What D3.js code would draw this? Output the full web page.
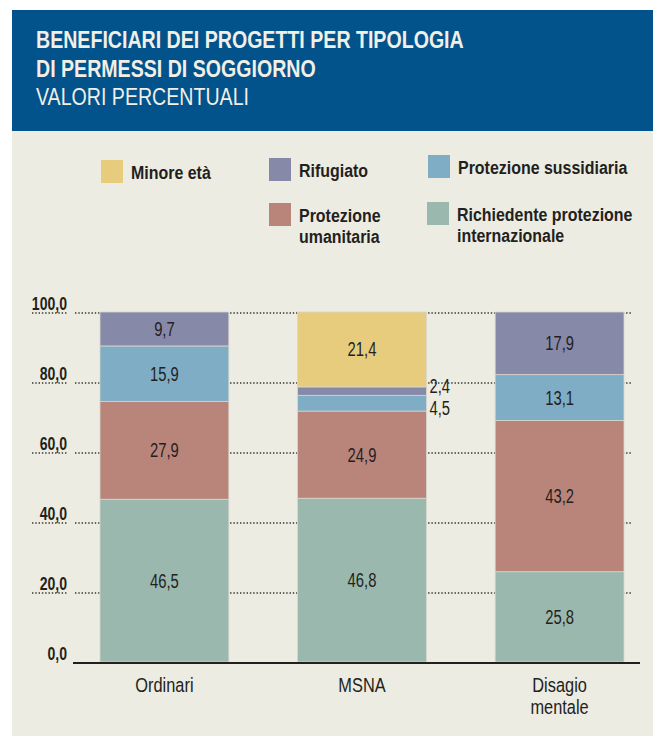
<!DOCTYPE html>
<html lang="it">
<head>
<meta charset="utf-8">
<title>Beneficiari dei progetti per tipologia di permessi di soggiorno</title>
<script src="https://d3js.org/d3.v7.min.js"></script>
<style>
  body { margin: 0; background: #fff; }
  text { font-family: "Liberation Sans", Arial, sans-serif; }
</style>
</head>
<body>
<div id="main"></div>
<script>
// ---- data ----
var categories = ["Ordinari", "MSNA", "Disagio mentale"];
var categoryLines = [["Ordinari"], ["MSNA"], ["Disagio", "mentale"]];
var series = ["Richiedente protezione internazionale", "Protezione umanitaria",
              "Protezione sussidiaria", "Rifugiato", "Minore età"];
var richiedente = [46.5, 46.8, 25.8];
var umanitaria  = [27.9, 24.9, 43.2];
var sussidiaria = [15.9, 4.5, 13.1];
var rifugiato   = [9.7, 2.4, 17.9];
var minore      = [0, 21.4, 0];
var yTicks = [0, 20, 40, 60, 80, 100];
var colors = ["#9bb8ae", "#b9857b", "#7eadc5", "#8789a8", "#e8cc7e"];

var legendItems = [
  {s: 4, lines: ["Minore età"], x: 101, y: 160},
  {s: 3, lines: ["Rifugiato"], x: 269, y: 158},
  {s: 2, lines: ["Protezione sussidiaria"], x: 428, y: 155},
  {s: 1, lines: ["Protezione", "umanitaria"], x: 269, y: 203},
  {s: 0, lines: ["Richiedente protezione", "internazionale"], x: 427, y: 202}
];

var width = 653, height = 736;
var fmt = function(v) { return v.toFixed(1).replace(".", ","); };

var svg = d3.select("#main").append("svg")
    .attr("width", width).attr("height", height);

// condensed text helper
function ctext(g, x, y, str, size, weight, k, anchor, fill) {
  return g.append("text")
    .attr("transform", "translate(" + x + "," + y + ") scale(" + k + ",1)")
    .attr("font-size", size).attr("font-weight", weight)
    .attr("text-anchor", anchor || "start")
    .attr("fill", fill || "#231f20")
    .text(str);
}

// header + panel
svg.append("rect").attr("x", 12).attr("y", 131).attr("width", 641).attr("height", 605).attr("fill", "#edece2");
svg.append("rect").attr("x", 12).attr("y", 10).attr("width", 641).attr("height", 121).attr("fill", "#02528b");
ctext(svg, 36, 48, "BENEFICIARI DEI PROGETTI PER TIPOLOGIA", 24.5, "bold", 0.8, "start", "#f1efe6");
ctext(svg, 36, 77, "DI PERMESSI DI SOGGIORNO", 24.5, "bold", 0.8, "start", "#f1efe6");
ctext(svg, 36, 105, "VALORI PERCENTUALI", 24.5, "normal", 0.8, "start", "#f1efe6");

// legend
var lg = svg.append("g");
legendItems.forEach(function(it) {
  lg.append("rect").attr("x", it.x).attr("y", it.y).attr("width", 22).attr("height", 23)
    .attr("fill", colors[it.s]);
  it.lines.forEach(function(l, i) {
    ctext(lg, it.x + 30, it.y + 19 + i * 21, l, 19, "bold", 0.84, "start", "#231f20");
  });
});

// scales
var x = d3.scaleBand().domain(categories).range([100, 624]).paddingInner(0.348).paddingOuter(0);
var y = d3.scaleLinear().domain([0, 100]).range([662, 312]);

// grid + tick labels
var grid = svg.append("g");
yTicks.forEach(function(t) {
  ctext(grid, 67, y(t) - 2, fmt(t), 19, "bold", 0.74, "end", "#231f20");
  if (t > 0) {
    grid.append("line").attr("x1", 32).attr("x2", 68).attr("y1", y(t) + 1).attr("y2", y(t) + 1)
      .attr("stroke", "#333").attr("stroke-width", 1.5).attr("stroke-dasharray", "1.4,1.9");
    grid.append("line").attr("x1", 75).attr("x2", 632).attr("y1", y(t) + 1).attr("y2", y(t) + 1)
      .attr("stroke", "#333").attr("stroke-width", 1.5).attr("stroke-dasharray", "1.4,1.9");
  }
});

// stacked bars
var rows = categories.map(function(c, i) {
  return {cat: c, s0: richiedente[i], s1: umanitaria[i], s2: sussidiaria[i], s3: rifugiato[i], s4: minore[i]};
});
var stack = d3.stack().keys(["s0", "s1", "s2", "s3", "s4"])(rows);

var bars = svg.append("g");
stack.forEach(function(layer, si) {
  bars.selectAll(null).data(layer.filter(function(d) { return d[1] - d[0] > 0; }))
    .enter().append("rect")
    .attr("x", function(d) { return x(d.data.cat); })
    .attr("width", x.bandwidth())
    .attr("y", function(d) { return y(d[1]); })
    .attr("height", function(d) { return y(d[0]) - y(d[1]); })
    .attr("fill", colors[si])
    .attr("stroke", "#d8d6cc").attr("stroke-width", 0.8);
});

// value labels
var labels = svg.append("g");
categories.forEach(function(c, ci) {
  var small = [];
  stack.forEach(function(layer) {
    var d = layer[ci], v = d[1] - d[0];
    if (v <= 0) return;
    var cy = (y(d[0]) + y(d[1])) / 2;
    if (v >= 8) {
      ctext(labels, x(c) + x.bandwidth() / 2, cy + 7, fmt(v), 19.5, "normal", 0.76, "middle");
    } else {
      small.push({v: v, cy: cy});
    }
  });
  if (small.length) {
    var mid = d3.mean(small, function(s) { return s.cy; });
    small.sort(function(a, b) { return a.cy - b.cy; });
    small.forEach(function(s, i) {
      var ly = mid + (i - (small.length - 1) / 2) * 22;
      ctext(labels, x(c) + x.bandwidth() + 3, ly + 7, fmt(s.v), 19.5, "normal", 0.76, "start");
    });
  }
});

// baseline axis
svg.append("line").attr("x1", 73).attr("x2", 640).attr("y1", y(0) + 1).attr("y2", y(0) + 1)
  .attr("stroke", "#231f20").attr("stroke-width", 2);

// category labels
var cl = svg.append("g");
categories.forEach(function(c, i) {
  categoryLines[i].forEach(function(l, j) {
    ctext(cl, x(c) + x.bandwidth() / 2, 692 + j * 22, l, 19.5, "normal", 0.84, "middle");
  });
});
</script>
</body>
</html>
